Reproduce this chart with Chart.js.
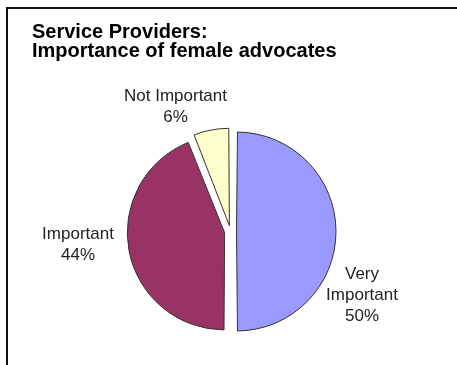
<!DOCTYPE html>
<html>
<head>
<meta charset="utf-8">
<script src="https://cdn.jsdelivr.net/npm/chart.js@4.4.0/dist/chart.umd.min.js"></script>
<style>
    html, body { margin: 0; padding: 0; background: #fff; }
    #wrap { width: 457px; height: 365px; position: relative; }
</style>
</head>
<body>
<div id="wrap"><canvas id="pieChart" width="457" height="365"></canvas></div>
<script>
// Chart data
const titleLines = ['Service Providers:', 'Importance of female advocates'];
const categories = [['Very', 'Important'], ['Important'], ['Not Important']];
const shares = [50, 44, 6];
const sliceColors = ['#9999FF', '#993366', '#FFFFCC'];

// Frame + title drawn straight onto the canvas
const framePlugin = {
    id: 'frameTitle',
    beforeDraw(chart) {
        const ctx = chart.ctx;
        ctx.save();
        ctx.fillStyle = '#111';
        ctx.fillRect(6, 7, 451, 2);
        ctx.fillRect(6, 7, 2, 358);
        ctx.fillStyle = '#000';
        ctx.font = 'bold 20px "Liberation Sans", Arial, sans-serif';
        ctx.textBaseline = 'alphabetic';
        titleLines.forEach((line, i) => {
            ctx.fillText(line, 32, 38 + i * 19);
        });
        ctx.restore();
    }
};

// Outside labels, placed relative to the pie centre
const labelPlugin = {
    id: 'sliceLabels',
    afterDatasetsDraw(chart, args, opts) {
        const ctx = chart.ctx;
        const meta = chart.getDatasetMeta(0);
        const data = chart.data.datasets[0].data;
        const total = data.reduce((a, b) => a + b, 0);
        ctx.save();
        ctx.font = opts.font;
        ctx.fillStyle = opts.color;
        ctx.textAlign = 'center';
        ctx.textBaseline = 'middle';
        meta.data.forEach((arc, i) => {
            const lines = [].concat(chart.data.labels[i], Math.round(data[i] / total * 100) + '%');
            const cx = arc.x + opts.shift[i][0];
            const cy = arc.y + opts.shift[i][1];
            const top = cy - (lines.length - 1) * opts.lineHeight / 2;
            lines.forEach((t, j) => ctx.fillText(t, cx, top + j * opts.lineHeight));
        });
        ctx.restore();
    }
};

new Chart(document.getElementById('pieChart').getContext('2d'), {
    type: 'pie',
    data: {
        labels: categories,
        datasets: [{
            data: shares,
            backgroundColor: sliceColors,
            borderColor: '#333',
            borderWidth: 1,
            offset: 24,
            radius: 93.5
        }]
    },
    options: {
        responsive: false,
        animation: false,
        layout: { padding: { left: 30, right: 26, top: 98, bottom: 0 } },
        plugins: {
            legend: { display: false },
            title: { display: false },
            tooltip: { enabled: false },
            sliceLabels: {
                font: '17px "Liberation Sans", Arial, sans-serif',
                color: '#222',
                lineHeight: 21,
                shift: [[131.5, 63.5], [-152.5, 13.5], [-55, -124.5]]
            }
        }
    },
    plugins: [framePlugin, labelPlugin]
});
</script>
</body>
</html>
